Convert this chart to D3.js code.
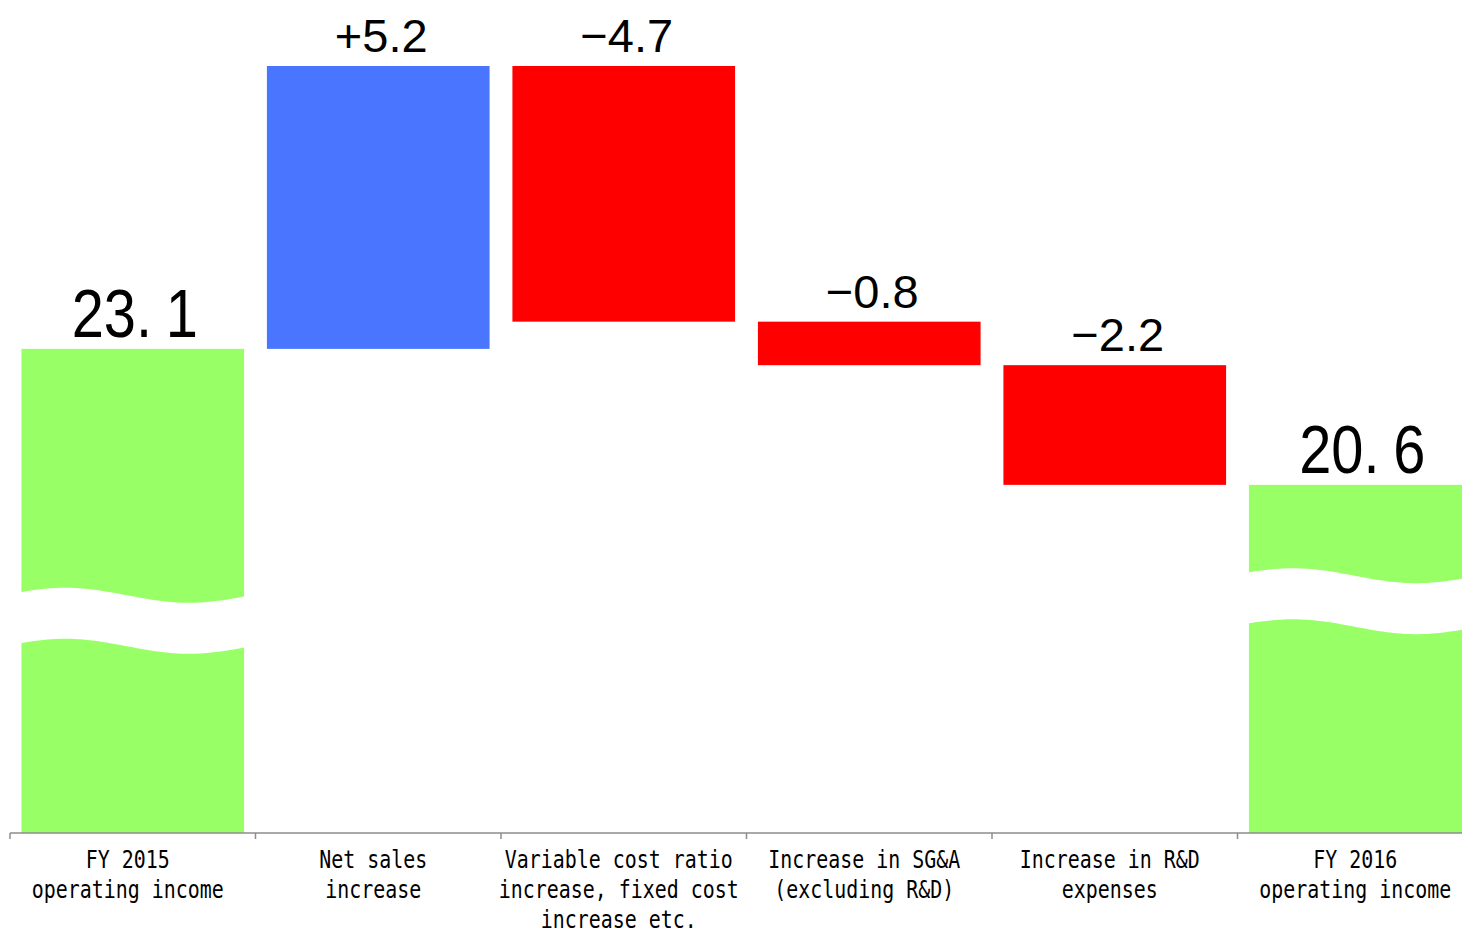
<!DOCTYPE html>
<html>
<head>
<meta charset="utf-8">
<script src="https://cdn.jsdelivr.net/npm/d3@7"></script>
<style>
  html, body { margin: 0; padding: 0; background: #fff; }
  svg { display: block; }
</style>
</head>
<body>
<svg id="chart" width="1462" height="933"></svg>
<script>
// ---- data ----
const categories = ["fy2015", "sales", "varcost", "sga", "rnd", "fy2016"];
const categoryLines = [
  ["FY 2015", "operating income"],
  ["Net sales", "increase"],
  ["Variable cost ratio", "increase, fixed cost", "increase etc."],
  ["Increase in SG&A", "(excluding R&D)"],
  ["Increase in R&D", "expenses"],
  ["FY 2016", "operating income"]
];
const values = [23.1, 5.2, -4.7, -0.8, -2.2, 20.6];
const kinds = ["total", "up", "down", "down", "down", "total"];
const valueLabels = ["23.1", "+5.2", "\u22124.7", "\u22120.8", "\u22122.2", "20.6"];
const yDomain = [14.2, 28.3];          // broken axis: visible value range
const breakValues = [18.57, null, null, null, null, 18.93]; // where the wave break sits

// ---- style ----
const W = 1462, H = 933;
const colors = { total: "#99FF66", up: "#4A76FF", down: "#FF0000" };

const svg = d3.select("#chart");

const x = d3.scaleBand()
  .domain(categories)
  .range([10, 1483])
  .paddingInner(0.093)
  .paddingOuter(0.0465);

const y = d3.scaleLinear().domain(yDomain).range([833, 66]);

// waterfall geometry
let running = 0;
const bars = categories.map((c, i) => {
  let lo, hi;
  if (kinds[i] === "total") {
    lo = yDomain[0]; hi = values[i]; running = values[i];
  } else {
    const start = running, end = running + values[i];
    lo = Math.min(start, end); hi = Math.max(start, end); running = end;
  }
  return { c, i, lo, hi, kind: kinds[i], label: valueLabels[i], brk: breakValues[i] };
});

// bars
svg.append("g").selectAll("rect").data(bars).join("rect")
  .attr("x", d => x(d.c))
  .attr("width", x.bandwidth())
  .attr("y", d => y(d.hi))
  .attr("height", d => y(d.lo) - y(d.hi))
  .attr("fill", d => colors[d.kind]);

// wave breaks
const waveLine = d3.line().x(p => p[0]).y(p => p[1]).curve(d3.curveLinear);
const ts = d3.range(0, 1.0001, 0.02);
svg.append("g").selectAll("path").data(bars.filter(d => d.brk != null)).join("path")
  .attr("fill", "#fff")
  .attr("d", d => {
    const x0 = x(d.c) - 1, w = x.bandwidth() + 2;
    const yc = y(d.brk), A = 7.5, thick = 51;
    const f = t => yc - A * Math.sin(2 * Math.PI * (t + 0.075) / 1.1);
    const top = ts.map(t => [x0 + t * w, f(t)]);
    const bot = ts.slice().reverse().map(t => [x0 + t * w, f(t) + thick]);
    return waveLine(top.concat(bot)) + "Z";
  });

// value labels
const lbl = svg.append("g");
bars.forEach(d => {
  const cx = x(d.c) + x.bandwidth() / 2;
  if (d.kind === "total") {
    const parts = d.label.split(".");
    const t = lbl.append("text")
      .attr("transform", `translate(${cx + 2},${y(d.hi) - 12}) scale(0.85,1)`)
      .attr("text-anchor", "middle")
      .attr("font-family", "'Liberation Sans', Arial, sans-serif")
      .attr("font-size", 68)
      .attr("fill", "#000");
    t.append("tspan").text(parts[0] + ".");
    t.append("tspan").attr("dx", 16).text(parts[1]);
  } else {
    lbl.append("text")
      .attr("x", cx + 3)
      .attr("y", y(d.hi) - 14)
      .attr("text-anchor", "middle")
      .attr("font-family", "'Liberation Sans', Arial, sans-serif")
      .attr("font-size", 47)
      .attr("fill", "#000")
      .text(d.label);
  }
});

// x axis
const axisY = y(yDomain[0]);
const step = x.step();
const boundaries = categories.map(c => x(c) - step * x.paddingInner() / 2);
const ax = svg.append("g");
ax.append("line")
  .attr("x1", boundaries[0]).attr("x2", W)
  .attr("y1", axisY).attr("y2", axisY)
  .attr("stroke", "#8c8c8c").attr("stroke-width", 1.5);
ax.selectAll("line.tick").data(boundaries).join("line")
  .attr("class", "tick")
  .attr("x1", d => d).attr("x2", d => d)
  .attr("y1", axisY).attr("y2", axisY + 6)
  .attr("stroke", "#8c8c8c").attr("stroke-width", 1.5);

// category labels
const cl = svg.append("g");
categories.forEach((c, i) => {
  const cx = x(c) + x.bandwidth() / 2 - 5;
  categoryLines[i].forEach((line, j) => {
    cl.append("text")
      .attr("transform", `translate(${cx},${868 + j * 30}) scale(0.83,1)`)
      .attr("text-anchor", "middle")
      .attr("font-family", "'DejaVu Sans Mono', monospace")
      .attr("font-size", 24)
      .attr("fill", "#000")
      .text(line);
  });
});
</script>
</body>
</html>
